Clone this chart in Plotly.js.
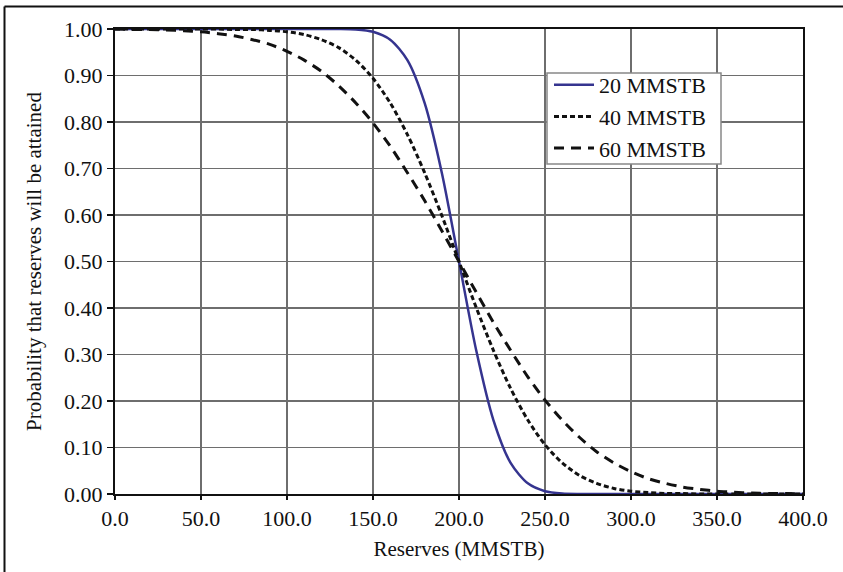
<!DOCTYPE html>
<html>
<head>
<meta charset="utf-8">
<script src="https://cdn.plot.ly/plotly-3.0.1.min.js"></script>
<style>html,body{margin:0;padding:0;background:#fff;}#chart{width:843px;height:572px;}</style>
</head>
<body>
<div id="chart"></div>
<script>
// Reserves (MMSTB), read every 10 MMSTB
var reserves = [0,10,20,30,40,50,60,70,80,90,100,110,120,130,140,150,160,170,180,190,200,
  210,220,230,240,250,260,270,280,290,300,310,320,330,340,350,360,370,380,390,400];
// Probability that reserves will be attained, per standard deviation
var prob20 = [1.000,1.000,1.000,1.000,1.000,1.000,1.000,1.000,1.000,1.000,1.000,1.000,1.000,1.000,0.999,0.994,0.977,0.933,0.841,0.691,0.500,
  0.309,0.159,0.067,0.023,0.006,0.001,0.000,0.000,0.000,0.000,0.000,0.000,0.000,0.000,0.000,0.000,0.000,0.000,0.000,0.000];
var prob40 = [1.000,1.000,1.000,1.000,1.000,1.000,1.000,0.999,0.999,0.997,0.994,0.988,0.977,0.960,0.933,0.894,0.841,0.773,0.691,0.599,0.500,
  0.401,0.309,0.227,0.159,0.106,0.067,0.040,0.023,0.012,0.006,0.003,0.001,0.001,0.000,0.000,0.000,0.000,0.000,0.000,0.000];
var prob60 = [1.000,0.999,0.999,0.998,0.996,0.994,0.990,0.985,0.977,0.967,0.952,0.933,0.909,0.878,0.841,0.798,0.748,0.691,0.631,0.566,0.500,
  0.434,0.369,0.309,0.252,0.202,0.159,0.122,0.091,0.067,0.048,0.033,0.023,0.015,0.010,0.006,0.004,0.002,0.001,0.001,0.000];
var seriesNames = ["20 MMSTB","40 MMSTB","60 MMSTB"];
var xTickVals = [0,50,100,150,200,250,300,350,400];
var xTickText = ["0.0","50.0","100.0","150.0","200.0","250.0","300.0","350.0","400.0"];
var yTickVals = [0,0.1,0.2,0.3,0.4,0.5,0.6,0.7,0.8,0.9,1.0];
var yTickText = ["0.00","0.10","0.20","0.30","0.40","0.50","0.60","0.70","0.80","0.90","1.00"];

var FONT = "Liberation Serif, Times New Roman, serif";
var traces = [
  {x: reserves, y: prob20, name: seriesNames[0], mode: "lines",
   line: {color: "#35348f", width: 2.5, shape: "spline", smoothing: 0.8}},
  {x: reserves, y: prob40, name: seriesNames[1], mode: "lines",
   line: {color: "#111111", width: 3, dash: "5px,3px", shape: "spline", smoothing: 0.8}},
  {x: reserves, y: prob60, name: seriesNames[2], mode: "lines",
   line: {color: "#111111", width: 3, dash: "10px,7px", shape: "spline", smoothing: 0.8}}
];

var px = function(p){ return (p - 115) / 688; };
var py = function(p){ return (494 - p) / 465; };

var layout = {
  width: 843, height: 572,
  margin: {l: 115, r: 40, t: 29, b: 78, pad: 0},
  paper_bgcolor: "#ffffff", plot_bgcolor: "#ffffff",
  font: {family: FONT, size: 22, color: "#111"},
  showlegend: true,
  legend: {x: px(549), y: py(64), xanchor: "left", yanchor: "top",
    bgcolor: "rgba(0,0,0,0)", borderwidth: 0,
    itemwidth: 40,
    font: {family: FONT, size: 22, color: "#111"}, traceorder: "normal"},
  xaxis: {range: [0, 400], tickvals: xTickVals, ticktext: xTickText,
    showgrid: true, gridcolor: "#6e6e6e", gridwidth: 1.5,
    showline: true, linecolor: "#111", linewidth: 2, mirror: true,
    ticks: "outside", ticklen: 4, tickwidth: 1.5, tickcolor: "#111",
    tickfont: {family: FONT, size: 22, color: "#111"}, zeroline: false,
    layer: "below traces",
    title: {text: "Reserves (MMSTB)", font: {family: FONT, size: 21, color: "#111"}, standoff: 11}},
  yaxis: {range: [0, 1], tickvals: yTickVals, ticktext: yTickText,
    showgrid: true, gridcolor: "#6e6e6e", gridwidth: 1.5,
    showline: true, linecolor: "#111", linewidth: 2, mirror: true,
    ticks: "outside", ticklen: 6, tickwidth: 1.5, tickcolor: "#111",
    tickfont: {family: FONT, size: 22, color: "#111"}, zeroline: false,
    layer: "below traces",
    title: {text: "Probability that reserves will be attained", font: {family: FONT, size: 21, color: "#111"}, standoff: 17}},
  shapes: [
    {type: "line", xref: "paper", yref: "paper", x0: px(4.5), x1: px(900), y0: py(6.5), y1: py(6.5), line: {color: "#111", width: 2}},
    {type: "line", xref: "paper", yref: "paper", x0: px(4.5), x1: px(4.5), y0: py(6.5), y1: py(650), line: {color: "#111", width: 2}},
    {type: "rect", xref: "paper", yref: "paper", layer: "above", x0: px(547), x1: px(721), y0: py(73), y1: py(164),
     fillcolor: "#ffffff", line: {color: "#888888", width: 1.5}}
  ]
};
Plotly.newPlot("chart", traces, layout, {displayModeBar: false, staticPlot: true});
</script>
</body>
</html>
